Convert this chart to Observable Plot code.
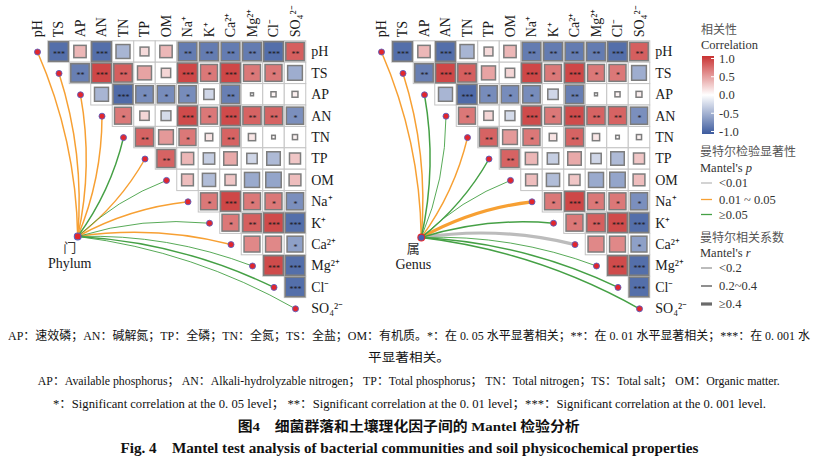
<!DOCTYPE html>
<html><head><meta charset="utf-8">
<script src="https://cdn.jsdelivr.net/npm/d3@7"></script>
<script src="https://cdn.jsdelivr.net/npm/@observablehq/plot@0.6"></script>
<style>
body{margin:0;background:#fff;width:818px;overflow:hidden}
#chart{width:818px;height:322px}
.cap{font-family:'Liberation Serif','Noto Sans CJK SC',serif;color:#111;text-align:center;white-space:nowrap;width:818px;overflow:visible}
.cap span{display:inline-block;transform-origin:50% 50%}
.b{font-weight:bold}
</style></head><body>
<div id="chart"></div>
<div id="caption"></div>
<script>
// ---------- data ----------
const vars = ["pH","TS","AP","AN","TN","TP","OM","Na⁺","K⁺","Ca²⁺","Mg²⁺","Cl⁻","SO₄²⁻"];
// upper-triangle correlations: row i holds columns i+1..12
const corr = [
  [-0.88, 0.35,-0.88,-0.45, 0.18, 0.35,-0.80,-0.80,-0.80,-0.80,-0.88, 0.78],
  [-0.78, 0.90, 0.78, 0.45, 0.20, 0.90, 0.66, 0.90, 0.66, 0.66,-0.50],
  [-0.45,-0.90,-0.70,-0.70,-0.70,-0.25,-0.78,-0.02, 0.06, 0.08],
  [ 0.66, 0.20,-0.22, 0.88, 0.66, 0.88, 0.76, 0.76,-0.68],
  [ 0.76, 0.50, 0.66, 0.13, 0.76, 0.12, 0.03, 0.06],
  [ 0.76, 0.35,-0.30, 0.42,-0.25,-0.42, 0.28],
  [ 0.32,-0.40, 0.28,-0.52,-0.55, 0.32],
  [ 0.66, 0.90, 0.66, 0.66,-0.68],
  [ 0.66, 0.78, 0.88,-0.88],
  [ 0.58, 0.58,-0.58],
  [ 0.88,-0.88],
  [-0.88]
];
const stars = [
  ["***","","***","","","","**","**","**","**","***","**"],
  ["**","***","**","","","***","*","***","*","*",""],
  ["","***","*","*","*","","**","","",""],
  ["*","","","***","*","***","**","**","*"],
  ["**","","*","","**","","",""],
  ["**","","","","","",""],
  ["","","","","",""],
  ["*","***","*","*","*"],
  ["*","**","***","***"],
  ["","","*"],
  ["***","***"],
  ["***"]
];
const panelNames = ["Phylum","Genus"];
const panelCN = ["门","属"];
const phylumP = ["0.01 ~ 0.05","0.01 ~ 0.05","0.01 ~ 0.05","0.01 ~ 0.05","≥0.05","0.01 ~ 0.05","≥0.05","0.01 ~ 0.05","≥0.05","0.01 ~ 0.05","≥0.05","≥0.05","≥0.05"];
const phylumR = ["0.2~0.4","0.2~0.4","0.2~0.4","0.2~0.4","0.2~0.4","0.2~0.4","<0.2","0.2~0.4","<0.2","0.2~0.4","<0.2","0.2~0.4","<0.2"];
const genusP = ["0.01 ~ 0.05","0.01 ~ 0.05","≥0.05","≥0.05","0.01 ~ 0.05","≥0.05","≥0.05","0.01 ~ 0.05","≥0.05","<0.01","≥0.05","≥0.05","≥0.05"];
const genusR = ["0.2~0.4","0.2~0.4","0.2~0.4","<0.2","0.2~0.4","0.2~0.4","<0.2","≥0.4","0.2~0.4","≥0.4","<0.2","0.2~0.4","0.2~0.4"];
const pLabels = ["<0.01","0.01 ~ 0.05","≥0.05"];
const rLabels = ["<0.2","0.2~0.4","≥0.4"];
const corrTicks = [1.0, 0.5, 0.0, -0.5, -1.0];

// ---------- styling / layout ----------
const SERIF = "'Liberation Serif','Times New Roman','Noto Sans CJK SC',serif";
const CJK = "'Noto Sans CJK SC','Liberation Serif',sans-serif";
const pColors = {"<0.01":"#bcbcbc","0.01 ~ 0.05":"#f7a033","≥0.05":"#45a045"};
const rWidths = {"<0.2":0.9,"0.2~0.4":1.5,"≥0.4":3.2};
const corrRange = ["#3d5b9e","#ffffff","#c93232"];
const W = 818, H = 322;
const col0 = 37, colStep = 21.5, row0 = 51.5, rowStep = 21.4;
const panelOffset = [0, 16];
const nodePos = [[1.87, 8.62],[1.85, 8.67]];
const pSeries = [phylumP, genusP], rSeries = [phylumR, genusR];

// ---------- tables ----------
const cells = [], links = [], diag = [], colLab = [], rowLab = [], nodes = [];
panelOffset.forEach((off, k) => {
  corr.forEach((row, i) => row.forEach((r, m) => {
    const j = i + 1 + m;
    cells.push({x: j + off, row: i, r, s: Math.min(0.97, Math.sqrt(Math.abs(r)) * 0.97), star: stars[i][m]});
  }));
  vars.forEach((v, i) => {
    diag.push({x: i + off, row: i});
    colLab.push({x: i + off, name: v});
    rowLab.push({x: 12 + off, row: i, name: v});
    links.push({x: i + off, row: i, nx: nodePos[k][0] + off, ny: nodePos[k][1], p: pSeries[k][i], r: rSeries[k][i]});
  });
  nodes.push({x: nodePos[k][0] + off, row: nodePos[k][1], cn: panelCN[k], en: panelNames[k], k});
});

// curved link: bulge clockwise for steep upward links, otherwise counter-clockwise
function curveMantel(context) {
  let pts = [];
  return {
    areaStart(){}, areaEnd(){},
    lineStart(){ pts = []; },
    point(x, y){ pts.push([x, y]); },
    lineEnd(){
      const [[x0, y0], [x1, y1]] = pts;
      const dx = x1 - x0, dy = y1 - y0;
      const k = 0.1;
      let px, py;
      if (-dy > dx) { px = -dy; py = dx; } else { px = dy; py = -dx; }
      const cx = (x0 + x1) / 2 + k * px, cy = (y0 + y1) / 2 + k * py;
      context.moveTo(x0, y0);
      context.quadraticCurveTo(cx, cy, x1, y1);
    }
  };
}

const linkMarks = pLabels.map(p => Plot.link(links.filter(d => d.p === p), {
  x1: "nx", y1: "ny", x2: "x", y2: "row",
  stroke: pColors[p], strokeWidth: d => rWidths[d.r], curve: curveMantel
}));

const plot = Plot.plot({
  width: W, height: H, margin: 0,
  x: {type: "linear", domain: [-col0 / colStep, (W - col0) / colStep], range: [0, W], axis: null},
  y: {type: "linear", domain: [-row0 / rowStep, (H - row0) / rowStep], range: [0, H], axis: null},
  color: {type: "linear", domain: [-1, 0, 1], range: corrRange, interpolate: "rgb"},
  style: {fontFamily: SERIF, fontSize: "14px", background: "white", color: "#222"},
  marks: [
    Plot.rect(cells, {x1: d => d.x - 0.5, x2: d => d.x + 0.5, y1: d => d.row - 0.5, y2: d => d.row + 0.5, inset: 0, fill: "white", stroke: "#c4c4c4", strokeWidth: 1}),
    Plot.rect(cells, {x1: d => d.x - d.s / 2, x2: d => d.x + d.s / 2, y1: d => d.row - d.s / 2, y2: d => d.row + d.s / 2, inset: 0, fill: "r", stroke: "#7d7d7d", strokeWidth: 1.5}),
    Plot.text(cells.filter(d => d.star), {x: "x", y: "row", text: "star", fontSize: 8, dy: 2.5, fill: "#1a1a1a"}),
    ...linkMarks,
    Plot.dot(diag, {x: "x", y: "row", r: 3, fill: "#e2262d", stroke: "#5d5dbd", strokeWidth: 0.9}),
    Plot.dot(nodes, {x: "x", y: "row", r: 3.4, fill: d => d.k ? "#4a5fb0" : "#e2262d", stroke: d => d.k ? "#e2262d" : "#5d5dbd", strokeWidth: 1.1}),
    Plot.text(colLab, {x: "x", y: () => -0.5, text: "name", rotate: -90, textAnchor: "start", dy: -4, fontSize: 14, fill: "#1a1a1a"}),
    Plot.text(rowLab, {x: d => d.x + 0.5, y: "row", text: "name", textAnchor: "start", dx: 5, fontSize: 14, fill: "#1a1a1a"}),
    Plot.text(nodes, {x: "x", y: "row", text: "cn", dx: -8, dy: 11, fontSize: 13, fontFamily: CJK, fill: "#333"}),
    Plot.text(nodes, {x: "x", y: "row", text: "en", dx: -8, dy: 27, fontSize: 14, fill: "#1a1a1a"})
  ]
});
document.getElementById("chart").appendChild(plot);

// ---------- legend ----------
const cscale = Plot.scale({color: {type: "linear", domain: [-1, 0, 1], range: corrRange, interpolate: "rgb"}});
const svg = d3.select(plot);
const defs = svg.append("defs");
const grad = defs.append("linearGradient").attr("id", "corrgrad").attr("x1", 0).attr("y1", 0).attr("x2", 0).attr("y2", 1);
d3.range(1, -1.0001, -0.1).forEach(v => grad.append("stop").attr("offset", (1 - v) / 2).attr("stop-color", cscale.apply(v)));
const L = svg.append("g").attr("font-family", SERIF).attr("font-size", 12.5).attr("fill", "#333").attr("text-anchor", "start");
const lx = 701;
L.append("text").attr("x", lx).attr("y", 30).attr("dy", "0.35em").attr("font-family", CJK).attr("font-size", 12).attr("fill", "#555").text("相关性");
L.append("text").attr("x", lx).attr("y", 45).attr("dy", "0.35em").text("Correlation");
const barTop = 56, barH = 78;
L.append("rect").attr("x", 702).attr("y", barTop).attr("width", 12).attr("height", barH).attr("fill", "url(#corrgrad)");
const ty = v => barTop + barH / 2 - v * 36.5;
corrTicks.forEach(v => {
  L.append("line").attr("x1", 711).attr("x2", 714).attr("y1", ty(v)).attr("y2", ty(v)).attr("stroke", "white").attr("stroke-width", 1);
  L.append("text").attr("x", 719).attr("y", ty(v)).attr("dy", "0.35em").text(v.toFixed(1));
});
L.append("text").attr("x", lx - 1).attr("y", 152).attr("dy", "0.35em").attr("font-family", CJK).attr("font-size", 12).attr("fill", "#555").text("曼特尔检验显著性");
const mp = L.append("text").attr("x", lx - 1).attr("y", 168).attr("dy", "0.35em");
mp.append("tspan").text("Mantel's ");
mp.append("tspan").attr("font-style", "italic").text("p");
const pY = [183, 199.5, 214.5];
pLabels.forEach((p, i) => {
  L.append("line").attr("x1", 701).attr("x2", 712).attr("y1", pY[i]).attr("y2", pY[i]).attr("stroke", pColors[p]).attr("stroke-width", 1.3);
  L.append("text").attr("x", 719).attr("y", pY[i]).attr("dy", "0.35em").text(p);
});
L.append("text").attr("x", lx - 1).attr("y", 238).attr("dy", "0.35em").attr("font-family", CJK).attr("font-size", 12).attr("fill", "#555").text("曼特尔相关系数");
const mr = L.append("text").attr("x", lx - 1).attr("y", 253).attr("dy", "0.35em");
mr.append("tspan").text("Mantel's ");
mr.append("tspan").attr("font-style", "italic").text("r");
const rY = [268, 286, 304];
rLabels.forEach((r, i) => {
  L.append("line").attr("x1", 701).attr("x2", 712).attr("y1", rY[i]).attr("y2", rY[i]).attr("stroke", "#6a6a6a").attr("stroke-width", rWidths[r]);
  L.append("text").attr("x", 719).attr("y", rY[i]).attr("dy", "0.35em").text(r);
});

// ---------- caption ----------
const captionLines = [
  {t: "AP：速效磷；AN：碱解氮；TP：全磷；TN：全氮；TS：全盐；OM：有机质。*：在 0. 05 水平显著相关；**：在 0. 01 水平显著相关；***：在 0. 001 水", h: 22, fs: 12, top: 3, w: 802},
  {t: "平显著相关。", h: 23, fs: 12, w: 82},
  {t: "AP：Available phosphorus； AN：Alkali-hydrolyzable nitrogen； TP：Total phosphorus； TN：Total nitrogen；TS：Total salt； OM：Organic matter.", h: 23, fs: 12, w: 742},
  {t: "*：Significant correlation at the 0. 05 level； **：Significant correlation at the 0. 01 level；***：Significant correlation at the 0. 001 level.", h: 22, fs: 12, w: 713},
  {t: "图4　细菌群落和土壤理化因子间的 Mantel 检验分析", h: 23, fs: 13.5, bold: true, w: 342},
  {t: "Fig. 4　Mantel test analysis of bacterial communities and soil physicochemical properties", h: 22, fs: 14, bold: true, w: 578}
];
const cap = d3.select("#caption");
captionLines.forEach(c => {
  const div = cap.append("div").attr("class", "cap" + (c.bold ? " b" : ""))
    .style("height", c.h + "px").style("line-height", c.h + "px").style("font-size", c.fs + "px")
    .style("margin-top", (c.top || 0) + "px");
  const span = div.append("span").text(c.t);
  const w = span.node().getBoundingClientRect().width;
  if (w > 0) span.style("transform", `scaleX(${c.w / w})`);
});
</script>
</body></html>
